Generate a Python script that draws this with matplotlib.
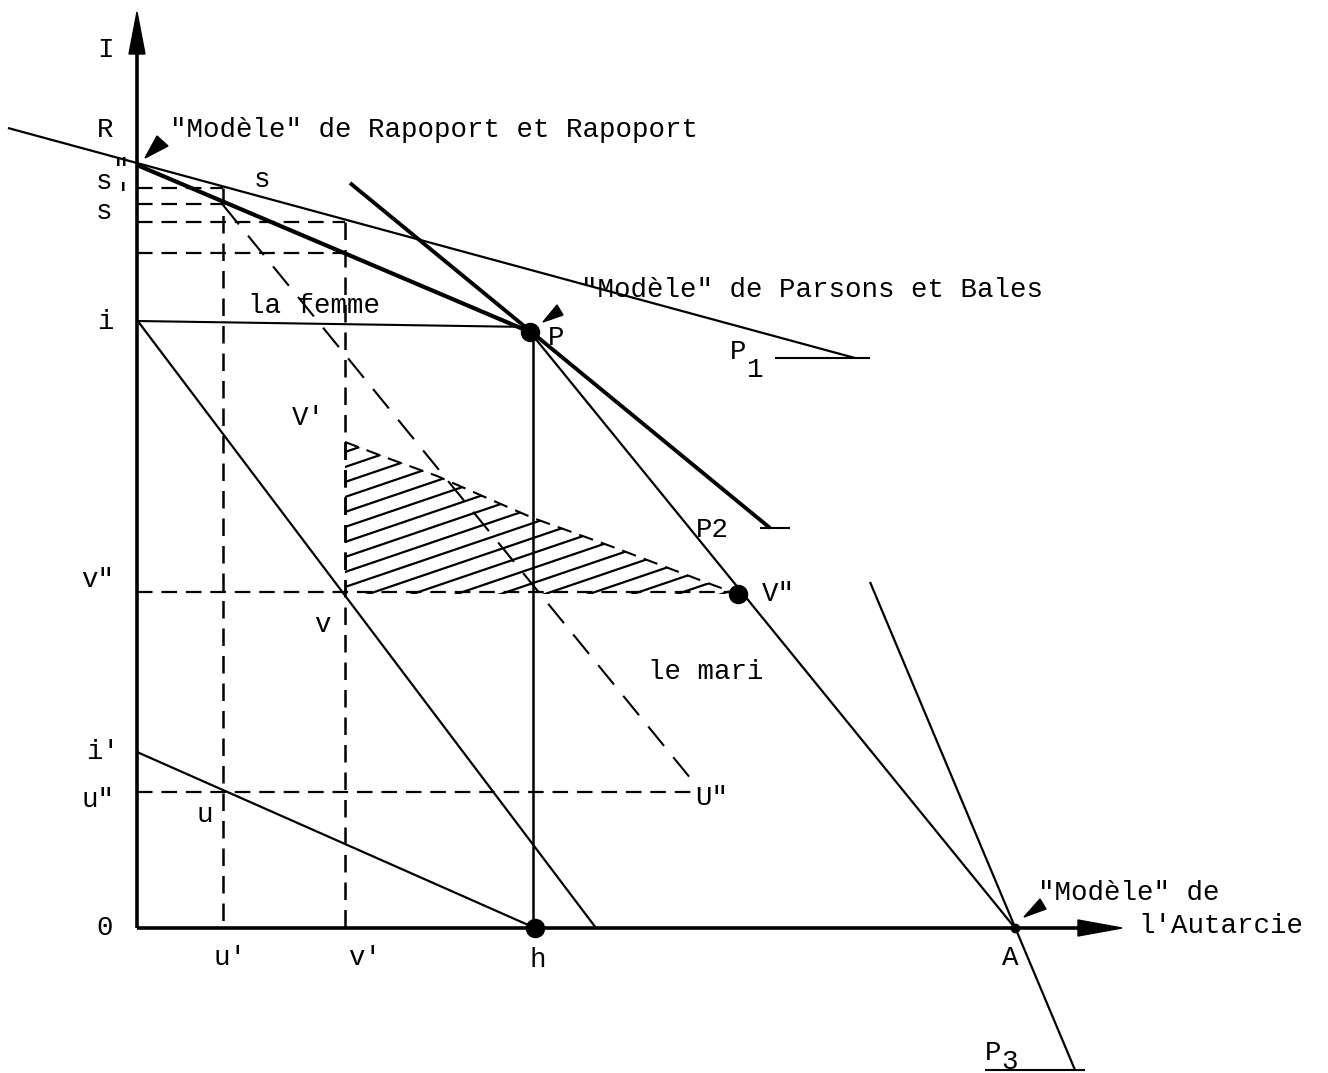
import matplotlib
matplotlib.use("Agg")
import matplotlib.pyplot as plt
import numpy as np
from matplotlib.patches import Polygon

# ---- diagram data (drawing units = reference pixel grid, y downward) ----
origin = (137, 928)
y_axis_top = 12
x_axis_end = 1122

parsons_line = [(8, 128), (855, 358)]          # "Modèle" de Parsons et Bales
rapoport_line = [(137, 165), (530, 332)]       # thick R -> P
p2_line = [(350, 183), (770, 528)]             # thick line through P to P2
pa_line = [(530, 332), (1015, 928)]            # P -> A
p3_line = [(870, 582), (1075, 1070)]           # through A to P3
i_line = [(137, 320), (596, 928)]
iprime_line = [(137, 752), (535, 928)]
i_to_P = [(137, 321), (530, 327)]
P_to_h = [(533, 332), (533, 928)]

p1_tick = [(775, 358), (870, 358)]
p2_tick = [(760, 528), (790, 528)]
p3_tick = [(985, 1070), (1085, 1070)]

dashed_h = [((137, 223), 188), ((137, 223), 204), ((137, 345), 222),
            ((137, 345), 253), ((137, 738), 592), ((137, 700), 792)]
dashed_v = [(223, (188, 928)), (345, (222, 928)), (345, (442, 594))]
diag_dashed = [(223, 205), (700, 790)]

hatch_boundary = [(345, 442), (390, 459), (437, 476), (487, 498), (533, 518),
                  (613, 547), (713, 585), (738, 594)]

big_dots = [(530, 332), (535, 928), (738, 594)]
small_dots = [(1015, 928)]

pointers = [
    [(145, 158), (157, 136), (168, 146)],
    [(543, 322), (557, 305), (563, 315)],
    [(1024, 917), (1040, 899), (1046, 909)],
]

labels = [
    ("I", 105, 50), ("R", 105, 130), ("s", 104, 182), ('"', 121, 170),
    ("'", 123, 195), ("s", 104, 212), ("s", 262, 180),
    ("i", 105, 322), ("P", 556, 338), ("P", 738, 352), ("1", 755, 370),
    ("V'", 308, 418), ("P2", 712, 530), ('v"', 98, 580), ('V"', 778, 594),
    ("v", 322, 625), ("i'", 103, 752), ('u"', 98, 800), ("u", 205, 815),
    ('U"', 712, 798), ("0", 105, 928), ("u'", 230, 958), ("v'", 365, 958),
    ("h", 538, 960), ("A", 1010, 958), ("P", 993, 1053), ("3", 1010, 1062),
]
left_texts = [
    ('"Modèle" de Rapoport et Rapoport', 170, 130),
    ('"Modèle" de Parsons et Bales', 581, 290),
    ("la femme", 248, 306),
    ("le mari", 648, 672),
    ('"Modèle" de', 1038, 893),
    ("l'Autarcie", 1138, 926),
]

# ---- figure ----
fig = plt.figure(figsize=(13.28, 10.73), dpi=100)
ax = fig.add_axes([0, 0, 1, 1])
ax.set_xlim(0, 1328)
ax.set_ylim(1073, 0)
ax.axis("off")

K = "black"
FONT = "Liberation Mono"
FS = 19.8

def seg(pts, lw=1.5, ls="-"):
    xs, ys = zip(*pts)
    ax.plot(xs, ys, color=K, lw=lw, ls=ls, solid_capstyle="butt")

# axes
seg([(origin[0], origin[1]), (origin[0], y_axis_top + 30)], lw=2.6)
seg([(origin[0], origin[1]), (x_axis_end - 30, origin[1])], lw=2.6)
ax.add_patch(Polygon([(origin[0], y_axis_top), (origin[0] - 8, y_axis_top + 42),
                      (origin[0] + 8, y_axis_top + 42)], closed=True, color=K))
ax.add_patch(Polygon([(x_axis_end, origin[1]), (x_axis_end - 44, origin[1] - 8),
                      (x_axis_end - 44, origin[1] + 8)], closed=True, color=K))

# solid lines
seg(parsons_line, lw=1.6)
seg(rapoport_line, lw=3.0)
seg(p2_line, lw=2.8)
seg(pa_line, lw=1.6)
seg(p3_line, lw=1.6)
seg(i_line, lw=1.6)
seg(iprime_line, lw=1.6)
seg(i_to_P, lw=1.5)
seg(P_to_h, lw=1.8)
seg(p1_tick, lw=1.5)
seg(p2_tick, lw=1.5)
seg(p3_tick, lw=1.5)

# dashed lines
dash = (0, (7, 4))
for (x0, x1), y in dashed_h:
    seg([(x0, y), (x1, y)], lw=1.6, ls=dash)
for x, (y0, y1) in dashed_v:
    seg([(x, y0), (x, y1)], lw=1.8, ls=dash)
seg(diag_dashed, lw=1.5, ls=(0, (12, 7)))
seg(hatch_boundary, lw=1.5, ls=dash)

# hatched region
poly_pts = hatch_boundary + [(345, 594)]
clip = Polygon(poly_pts, closed=True, facecolor="none", edgecolor="none")
ax.add_patch(clip)
slope = -0.34
for c in np.arange(452, 760, 15):
    xs = np.array([345, 760])
    ys = c + slope * (xs - 345)
    ln, = ax.plot(xs, ys, color=K, lw=1.6)
    ln.set_clip_path(clip)

# dots
for x, y in big_dots:
    ax.plot(x, y, "o", color=K, ms=13)
for x, y in small_dots:
    ax.plot(x, y, "o", color=K, ms=6)

# pointers
for tri in pointers:
    ax.add_patch(Polygon(tri, closed=True, color=K))

# texts
for t, x, y in labels:
    ax.text(x, y, t, ha="center", va="center", fontsize=FS, family=FONT, color=K)
for t, x, y in left_texts:
    ax.text(x, y, t, ha="left", va="center", fontsize=FS, family=FONT, color=K)

fig.savefig("out.png", dpi=100, facecolor="white")
